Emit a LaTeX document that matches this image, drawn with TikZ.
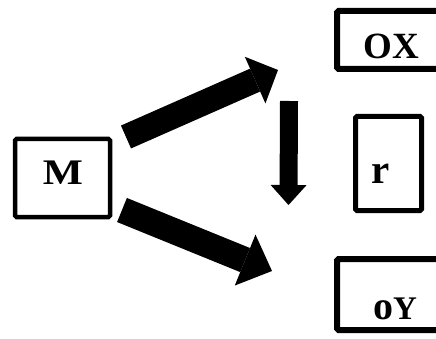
\documentclass[tikz,border=0pt]{standalone}
\usepackage{fontspec}
\setmainfont{Liberation Serif}
\usetikzlibrary{arrows.meta}
\begin{document}
\begin{tikzpicture}[x=1pt,y=-1pt,
  box/.style={draw=black,rounded corners=1.5pt},
  lbl/.style={anchor=base,inner sep=0pt,font=\bfseries},
  fat/.style={draw=black}]
\useasboundingbox (0,0) rectangle (436,339);
\clip (0,0) rectangle (436,339);
% boxes
\draw[box,line width=4.5pt] (15,139) rectangle (110,217);
\draw[box,line width=6pt] (337,11) rectangle (442,69);
\draw[box,line width=5pt] (355.5,116.5) rectangle (421.5,210.5);
\draw[box,line width=6pt] (337,259) rectangle (442,330);
% labels
\node[lbl] (m) at (63,185) {\fontsize{36}{40}\selectfont\scalebox{1.18}[1]{M}};
\node[lbl] (ox) at (391,59) {\fontsize{37}{42}\selectfont OX};
\node[lbl] (r) at (381,184) {\fontsize{41}{44}\selectfont r};
\node[lbl] (oy) at (395,319) {\fontsize{40}{44}\selectfont o\fontsize{33}{40}\selectfont Y};
% arrows
\coordinate (u1) at (126,137); \coordinate (u2) at (278,70);
\coordinate (l1) at (122,210); \coordinate (l2) at (272,271);
\coordinate (v1) at (289,101); \coordinate (v2) at (288.5,205);
\draw[fat,line width=25pt,-{Triangle[length=25pt,width=51pt,line width=0pt]}] (u1) -- (u2);
\draw[fat,line width=26pt,-{Triangle[length=29pt,width=55pt,line width=0pt]}] (l1) -- (l2);
\draw[fat,line width=18pt,-{Triangle[length=20pt,width=36pt,line width=0pt]}] (v1) -- (v2);
\end{tikzpicture}
\end{document}
